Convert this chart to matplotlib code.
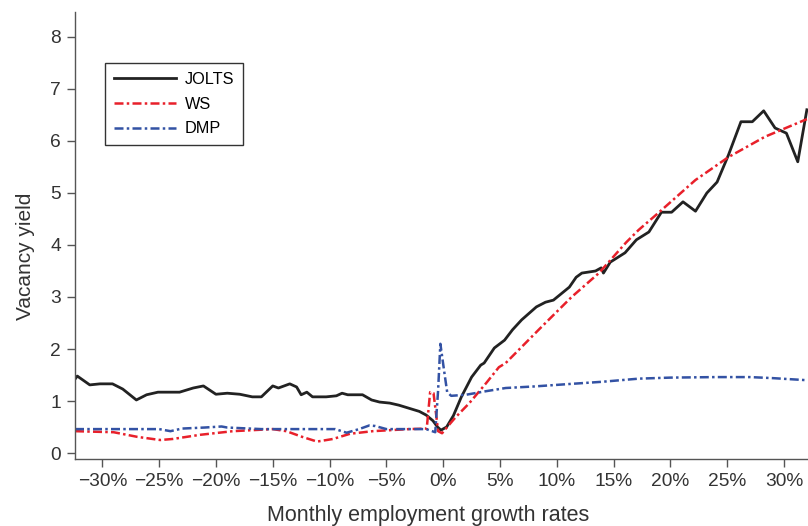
import matplotlib
matplotlib.use('Agg')
import matplotlib.pyplot as plt

plt.rcParams['font.family'] = ['Liberation Sans Narrow', 'Liberation Sans', 'DejaVu Sans']

# JOLTS (black, solid)
jolts_x = [-32.4, -32.2, -31.1, -30.2, -29.1, -28.2, -27.0, -26.1, -25.1, -23.2, -22.0, -21.1,
           -20.0, -19.0, -17.9, -16.8, -16.0, -15.0, -14.5, -13.5, -12.9, -12.5, -12.0, -11.5,
           -10.3, -9.4, -8.9, -8.4, -7.1, -6.3, -5.6, -4.7, -3.9, -3.0, -2.1, -1.5, -0.9, -0.5,
           -0.2, 0.3, 0.9, 1.6, 2.5, 3.3, 3.6, 4.5, 5.4, 6.1, 6.9, 8.2, 9.0, 9.7, 11.1, 11.7,
           12.2, 13.4, 13.9, 14.1, 14.7, 16.0, 17.0, 18.1, 19.2, 20.1, 21.1, 22.2, 23.2, 24.1,
           25.1, 26.2, 27.2, 28.2, 29.2, 30.2, 31.2, 32.0]
jolts_y = [1.42, 1.48, 1.31, 1.33, 1.33, 1.23, 1.02, 1.12, 1.17, 1.17, 1.25, 1.29,
           1.13, 1.15, 1.13, 1.08, 1.08, 1.29, 1.25, 1.33, 1.27, 1.12, 1.17, 1.08,
           1.08, 1.10, 1.15, 1.12, 1.12, 1.02, 0.98, 0.96, 0.92, 0.86, 0.80, 0.73, 0.62, 0.50,
           0.44, 0.50, 0.72, 1.08, 1.46, 1.69, 1.73, 2.02, 2.17, 2.37, 2.56, 2.81, 2.90, 2.94, 3.19, 3.38,
           3.46, 3.50, 3.56, 3.46, 3.67, 3.85, 4.10, 4.25, 4.63, 4.63, 4.83, 4.65, 5.00, 5.21,
           5.73, 6.37, 6.37, 6.58, 6.25, 6.15, 5.60, 6.60]

# WS (red, dash-dot)
ws_x = [-32.4, -29.0, -26.9, -24.9, -23.8, -21.4, -18.5, -15.0, -13.8, -12.4, -11.1, -9.7,
        -8.2, -6.2, -3.0, -1.45, -1.15, -0.85, -0.6, -0.45, -0.1, 0.35, 1.1, 2.3, 3.8, 4.9,
        5.5, 8.4, 11.3, 13.7, 16.1, 17.2, 19.0, 22.2, 25.1, 28.3, 32.0]
ws_y = [0.42, 0.40, 0.31, 0.25, 0.27, 0.35, 0.42, 0.46, 0.42, 0.31, 0.22, 0.27,
        0.37, 0.42, 0.46, 0.47, 1.17, 1.15, 0.70, 0.42, 0.38, 0.50, 0.69, 0.96, 1.35, 1.65,
        1.73, 2.37, 3.00, 3.46, 4.05, 4.29, 4.63, 5.25, 5.69, 6.08, 6.42]

# DMP (blue, dash-dot)
dmp_x = [-32.4, -25.0, -24.0, -23.0, -21.0, -19.5, -19.0, -16.0, -9.5, -8.5, -7.4, -6.5,
         -6.0, -5.0, -1.5, -0.7, -0.45, -0.25, 0.1, 0.35, 0.7, 2.0, 3.8, 5.5, 8.0, 11.3,
         14.0, 17.2, 20.0, 24.0, 27.0, 29.0, 32.0]
dmp_y = [0.46, 0.46, 0.42, 0.47, 0.49, 0.51, 0.49, 0.46, 0.46, 0.39, 0.46, 0.53,
         0.52, 0.46, 0.46, 0.40, 1.20, 2.10, 1.55, 1.17, 1.10, 1.12, 1.19, 1.25, 1.28, 1.33,
         1.37, 1.43, 1.45, 1.46, 1.46, 1.44, 1.40]

x_ticks = [-30, -25, -20, -15, -10, -5, 0, 5, 10, 15, 20, 25, 30]
x_labels = [f"{v}%".replace("-", "\u2212") for v in x_ticks]
y_ticks = [0, 1, 2, 3, 4, 5, 6, 7, 8]

fig = plt.figure(figsize=(8.08, 5.26), dpi=100)
ax = fig.add_axes([75 / 808, 67 / 526, 733 / 808, 447 / 526])

dash = (0, (3.6, 1.3, 1.0, 1.3))
ax.plot(jolts_x, jolts_y, color='#222222', lw=2.0, label='JOLTS')
ax.plot(ws_x, ws_y, color='#e8202a', lw=1.8, linestyle=dash, label='WS')
ax.plot(dmp_x, dmp_y, color='#3352a4', lw=1.8, linestyle=dash, label='DMP')

ax.set_xlim(-32.4, 32.1)
ax.set_ylim(-0.115, 8.48)
ax.set_xticks(x_ticks)
ax.set_xticklabels(x_labels)
ax.set_yticks(y_ticks)

for s in ['top', 'right']:
    ax.spines[s].set_visible(False)
for s in ['left', 'bottom']:
    ax.spines[s].set_color('#555555')
    ax.spines[s].set_linewidth(1.0)
ax.tick_params(axis='both', direction='out', length=6, width=1.0, color='#555555',
               labelcolor='#333333', labelsize=13.8, pad=4)

ax.set_xlabel('Monthly employment growth rates', fontsize=15.5, color='#333333', labelpad=11,
              family=['Liberation Sans', 'DejaVu Sans'])
ax.set_ylabel('Vacancy yield', fontsize=15, color='#333333', labelpad=11,
              family=['Liberation Sans', 'DejaVu Sans'])
ax.xaxis.label.set_x(0.482)
ax.yaxis.label.set_y(0.454)

leg = ax.legend(loc='upper left', bbox_to_anchor=(0.041, 0.886), borderaxespad=0,
                fancybox=False, framealpha=1, edgecolor='#333333', borderpad=0.55,
                handlelength=3.8, handletextpad=0.55, labelspacing=0.6,
                prop={'family': ['Liberation Sans', 'DejaVu Sans'], 'size': 11.7})
leg.get_frame().set_linewidth(1.0)

fig.savefig('out.png', dpi=100)
